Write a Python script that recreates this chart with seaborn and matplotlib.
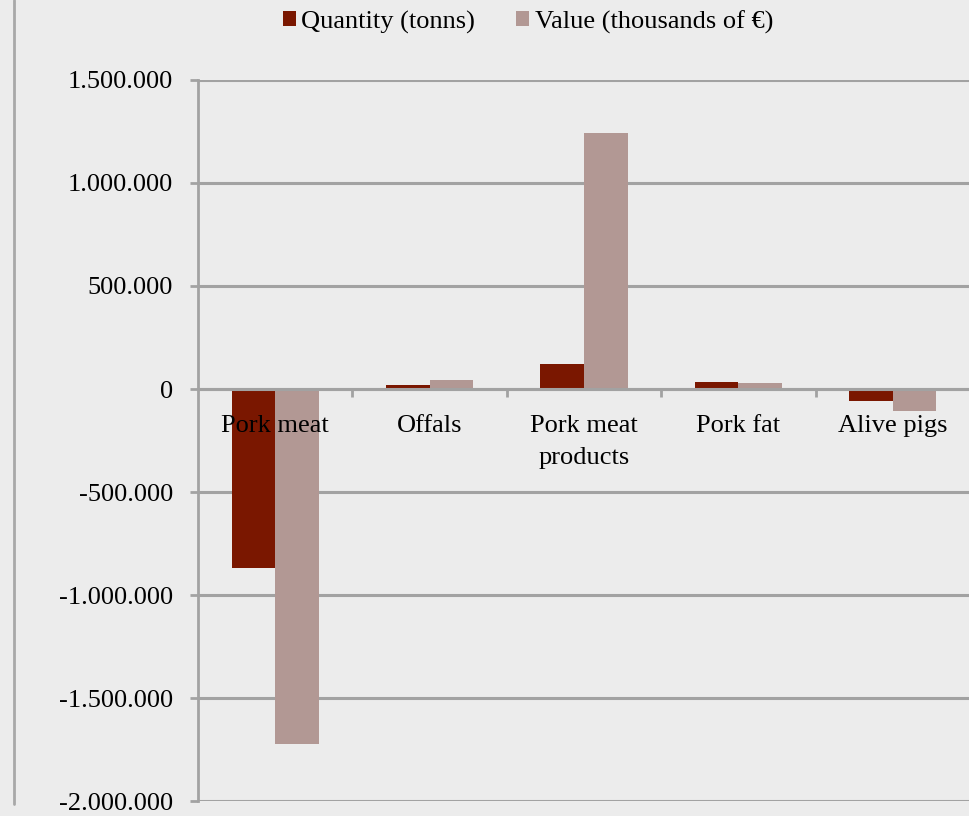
import matplotlib
matplotlib.use("Agg")
import matplotlib.pyplot as plt
import matplotlib.ticker as mticker
from matplotlib.lines import Line2D
from matplotlib.patches import Patch
import seaborn as sns
import pandas as pd

categories = ["Pork meat", "Offals", "Pork meat\nproducts", "Pork fat", "Alive pigs"]
quantity_tonns = [-870000, 20000, 121000, 33000, -60000]
value_thousands_eur = [-1720000, 44000, 1240000, 31000, -105000]
series_names = ["Quantity (tonns)", "Value (thousands of €)"]
yticks = [-2000000, -1500000, -1000000, -500000, 0, 500000, 1000000, 1500000]

colors = ["#7a1700", "#b29894"]
bg = "#ececec"
gridc = "#a2a2a2"
fs = 19

df = pd.DataFrame({
    "category": categories * 2,
    "series": [series_names[0]] * len(categories) + [series_names[1]] * len(categories),
    "value": quantity_tonns + value_thousands_eur,
})

sns.set_theme(style="white")
plt.rcParams["font.family"] = ["Liberation Serif", "DejaVu Serif"]
plt.rcParams["text.color"] = "black"

fig = plt.figure(figsize=(9.69, 8.16), dpi=100)
fig.patch.set_facecolor(bg)
ax = fig.add_axes([198 / 969, 14.6 / 816, 772 / 969, (801.4 - 79.7) / 816])
ax.set_facecolor(bg)
ax.set_axisbelow(True)

sns.barplot(data=df, x="category", y="value", hue="series", order=categories,
            hue_order=series_names, palette=colors, width=0.565, saturation=1,
            linewidth=0, gap=0, ax=ax, legend=False)

ax.set_ylim(-2000000, 1500000)
ax.set_xlim(-0.5, len(categories) - 0.5)
ax.set_yticks(yticks)
ax.yaxis.set_major_formatter(mticker.FuncFormatter(lambda v, p: f"{int(v):,}".replace(",", ".")))
ax.grid(axis="y", color=gridc, linewidth=2.2)
ax.grid(axis="x", visible=False)
ax.set_xlabel("")
ax.set_ylabel("")

for s in ["top", "right"]:
    ax.spines[s].set_visible(False)
ax.spines["left"].set_color(gridc)
ax.spines["left"].set_linewidth(2.0)
ax.spines["bottom"].set_position(("data", 0))
ax.spines["bottom"].set_color(gridc)
ax.spines["bottom"].set_linewidth(2.2)
ax.spines["bottom"].set_zorder(6)

ax.tick_params(axis="y", which="major", left=True, length=6, width=2, color=gridc,
               labelsize=fs, pad=12, labelcolor="black")
ax.set_xticks(range(len(categories)))
ax.set_xticklabels(categories, linespacing=1.55)
ax.set_xticks([i + 0.5 for i in range(len(categories) - 1)], minor=True)
ax.tick_params(axis="x", which="major", length=0, labelsize=fs, pad=19, labelcolor="black")
ax.tick_params(axis="x", which="minor", bottom=True, length=6, width=2, color=gridc, direction="out")
ax.xaxis.set_zorder(5)

handles = [Patch(facecolor=c, edgecolor="none") for c in colors]
fig.legend(handles, series_names, loc="center", bbox_to_anchor=(528 / 969, 1 - 22 / 816),
           ncol=2, frameon=False, fontsize=fs, handlelength=0.5, handleheight=0.5,
           handletextpad=0.2, columnspacing=1.55, labelcolor="black")

fig.add_artist(Line2D([14 / 969, 14 / 969], [1 - 804 / 816, 1.0], transform=fig.transFigure,
                      color="#a8a8a8", linewidth=2.0))

fig.savefig("out.png", dpi=100, facecolor=bg)
